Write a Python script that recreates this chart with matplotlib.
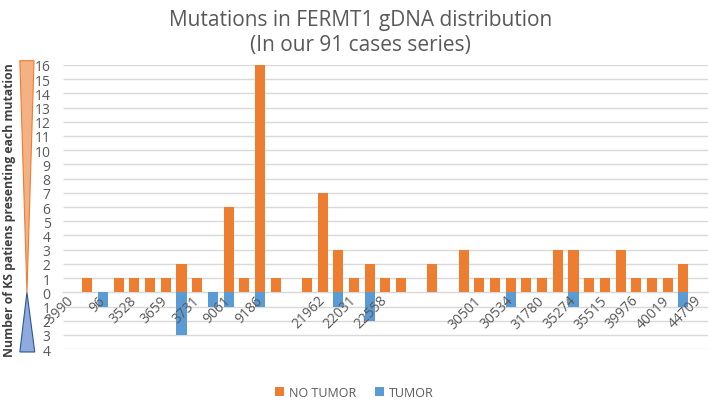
import numpy as np
import matplotlib.pyplot as plt
from matplotlib.patches import Polygon
from matplotlib.transforms import blended_transform_factory

# Data (41 category slots, labels shown on every second one)
no_tumor = [0, 1, 0, 1, 1, 1, 1, 2, 1, 0, 6, 1, 16, 1, 0, 1, 7, 3, 1, 2, 1,
            1, 0, 2, 0, 3, 1, 1, 1, 1, 1, 3, 3, 1, 1, 3, 1, 1, 1, 2, 0]
tumor = [0, 0, 1, 0, 0, 0, 0, 3, 0, 1, 1, 0, 1, 0, 0, 0, 0, 1, 0, 2, 0,
         0, 0, 0, 0, 0, 0, 0, 1, 0, 0, 0, 1, 0, 0, 0, 0, 0, 0, 1, 0]
tick_labels = ['-3990', '96', '3528', '3659', '3731', '9061', '9186', '',
               '21962', '22031', '22558', '', '', '30501', '30534', '31780',
               '35274', '35515', '39976', '40019', '44709']
y_ticks = list(range(-4, 17))

orange = '#ED7D31'
blue = '#5B9BD5'
gray = '#595959'

plt.rcParams['font.family'] = ['Open Sans', 'DejaVu Sans']

fig = plt.figure(figsize=(7.09, 4.02), dpi=100)
ax = fig.add_axes([0.089, 0.129, 0.909, 0.707])

x = np.arange(len(no_tumor))
ax.bar(x, no_tumor, width=0.64, color=orange, label='NO TUMOR', zorder=2)
ax.bar(x, -np.array(tumor), width=0.64, color=blue, label='TUMOR', zorder=2)

# spine position first: it resets the ticks
for s in ['top', 'right', 'left']:
    ax.spines[s].set_visible(False)
ax.spines['bottom'].set_position(('data', 0))
ax.spines['bottom'].set_color('#D9D9D9')
ax.spines['bottom'].set_zorder(1)

ax.tick_params(axis='y', length=0, pad=9)
ax.tick_params(axis='x', length=0, pad=4)

ax.set_xlim(-0.55, len(no_tumor) - 0.45)
ax.set_ylim(-4, 16)
ax.set_yticks(y_ticks)
ax.set_yticklabels([str(abs(v)) for v in y_ticks], color=gray, fontsize=10)
# gridlines drawn under the bars, tick labels on top of them
ax.hlines(y_ticks, -0.55, len(no_tumor) - 0.45, color='#D9D9D9', linewidth=1, zorder=0)
ax.set_axisbelow(False)

ax.set_xticks(x[::2])
ax.set_xticklabels(tick_labels, rotation=45, ha='right', va='center',
                   rotation_mode='anchor', color=gray, fontsize=10)

# Decorative triangles next to the y axis
tr = blended_transform_factory(fig.transFigure, ax.transData)
ax.add_patch(Polygon([(0.028, 16.3), (0.048, 16.3), (0.038, 0)], closed=True,
                     facecolor='#F4B183', edgecolor='#ED7D31', linewidth=0.8,
                     transform=tr, clip_on=False))
ax.add_patch(Polygon([(0.038, 0), (0.028, -4.2), (0.049, -4.2)], closed=True,
                     facecolor='#8FAADC', edgecolor='#2F5597', linewidth=0.8,
                     transform=tr, clip_on=False))

fig.text(0.013, 0.478, 'Number of KS patiens presenting each mutation',
         rotation=90, ha='center', va='center', fontsize=8.8,
         fontweight='bold', color='#404040')

fig.text(0.508, 0.975, 'Mutations in FERMT1 gDNA distribution\n(In our 91 cases series)',
         ha='center', va='top', fontsize=15, color=gray, linespacing=1.25)

fig.legend(loc='center', bbox_to_anchor=(0.5, 0.022), ncol=2, frameon=False,
           fontsize=9, labelcolor=gray, handlelength=0.7, handleheight=0.7,
           columnspacing=1.5, handletextpad=0.4)

fig.savefig('out.png', dpi=100)
